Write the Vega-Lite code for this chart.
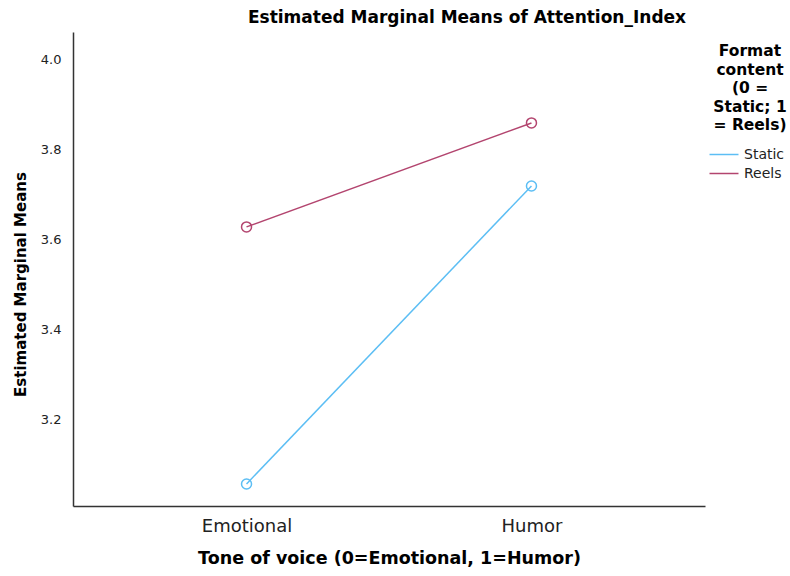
{
  "$schema": "https://vega.github.io/schema/vega-lite/v6.json",
  "autosize": "none",
  "width": 632,
  "height": 474,
  "padding": {"left": 73, "top": 32, "right": 85, "bottom": 70},
  "background": "white",
  "config": {"view": {"stroke": null}, "font": "DejaVu Sans"},
  "title": {"text": "Estimated Marginal Means of Attention_Index", "fontSize": 17, "fontWeight": "bold", "color": "#000", "anchor": "middle", "dx": 78, "offset": 5},
  "data": {"values": [
    {"tone": "Emotional", "format": "Static", "mean": 3.056},
    {"tone": "Humor", "format": "Static", "mean": 3.718},
    {"tone": "Emotional", "format": "Reels", "mean": 3.627},
    {"tone": "Humor", "format": "Reels", "mean": 3.858}
  ]},
  "encoding": {
    "x": {"field": "tone", "type": "nominal", "sort": ["Emotional", "Humor"],
      "scale": {"type": "point", "padding": 0.609},
      "axis": {"title": "Tone of voice (0=Emotional, 1=Humor)", "labelAngle": 0, "ticks": false, "grid": false,
        "domainColor": "#333", "domainWidth": 1.5, "labelFontSize": 18, "labelColor": "#222", "labelPadding": 11,
        "titleFontSize": 17.5, "titleFontWeight": "bold", "titleColor": "#000", "titlePadding": 14}},
    "y": {"field": "mean", "type": "quantitative",
      "scale": {"domain": [3.007, 4.060], "nice": false, "zero": false},
      "axis": {"title": "Estimated Marginal Means", "values": [3.2, 3.4, 3.6, 3.8, 4.0], "format": ".1f", "ticks": false, "grid": false,
        "domainColor": "#333", "domainWidth": 1.5, "labelFontSize": 13, "labelColor": "#222", "labelPadding": 12,
        "titleFontSize": 15, "titleFontWeight": "bold", "titleColor": "#000", "titlePadding": 12, "titleY": 252}},
    "color": {"field": "format", "type": "nominal",
      "scale": {"domain": ["Static", "Reels"], "range": ["#5CBEF4", "#B3456F"]}}
  },
  "layer": [
    {"mark": {"type": "line", "strokeWidth": 1.5},
     "encoding": {"color": {"field": "format", "type": "nominal",
       "scale": {"domain": ["Static", "Reels"], "range": ["#5CBEF4", "#B3456F"]},
       "legend": {"title": ["Format", "content", "(0 =", "Static; 1", "= Reels)"], "orient": "none", "legendX": 640, "legendY": 12,
         "titleFontSize": 15.5, "titleFontWeight": "bold", "titleColor": "#000", "titleAnchor": "middle", "titleAlign": "center", "titleLineHeight": 18.5, "titlePadding": 13,
         "symbolType": "M-2,0H2", "symbolSize": 210, "symbolStrokeWidth": 1.5, "labelFontSize": 14, "labelColor": "#222", "labelOffset": 12, "rowPadding": 4}}}},
    {"mark": {"type": "point", "filled": false, "size": 100, "strokeWidth": 1.5, "opacity": 1}}
  ]
}
